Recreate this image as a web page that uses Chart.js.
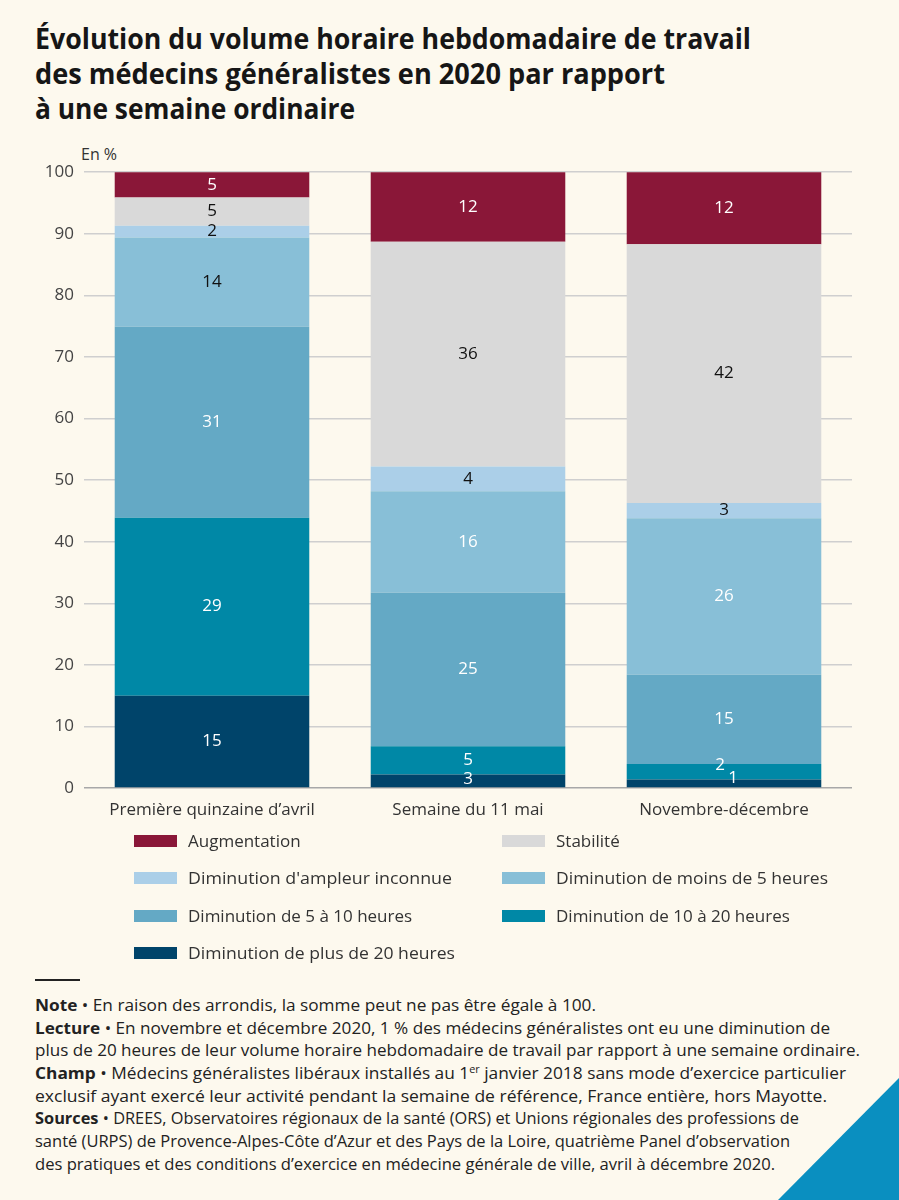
<!DOCTYPE html>
<html lang="fr">
<head>
<meta charset="utf-8">
<script src="https://cdn.jsdelivr.net/npm/chart.js@4.4.1/dist/chart.umd.min.js"></script>
<style>
  html, body { margin: 0; padding: 0; }
  body { width: 899px; height: 1200px; background: #fdf9ee; position: relative; overflow: hidden;
         font-family: "Open Sans", "Noto Sans", sans-serif; color: #333; }
  .fit { display: inline-block; white-space: nowrap; transform-origin: 0 50%; }
  #title { position: absolute; left: 35px; top: 20px; font-weight: 700; font-size: 29px; line-height: 35px; color: #161616; }
  #title div { height: 35px; }
  #unit { position: absolute; left: 81px; top: 143px; font-size: 16px; color: #333; }
  #wrap { position: absolute; left: 0; top: 152px; width: 852px; height: 678px; }
  #legend { position: absolute; left: 0; top: 822px; width: 899px; }
  .item { position: absolute; height: 38px; font-size: 17px; line-height: 38px; color: #333; }
  .item span.sw { position: absolute; top: 13px; width: 43px; height: 12px; }
  .item span.tx { position: absolute; }
  #rule { position: absolute; left: 35px; top: 979px; width: 45px; height: 2px; background: #222; }
  #notes { position: absolute; left: 35px; top: 994px; font-size: 16px; line-height: 22.7px; color: #222; }
  #notes div { height: 22.7px; }
  #notes b { font-weight: 700; }
  #corner { position: absolute; right: 0; bottom: 0; width: 0; height: 0;
            border-style: solid; border-width: 0 0 122px 121px; border-color: transparent transparent #0a8fc0 transparent; }
</style>
</head>
<body>
<div id="title">
  <div><span class="fit" data-w="716">Évolution du volume horaire hebdomadaire de travail</span></div>
  <div><span class="fit" data-w="630">des médecins généralistes en 2020 par rapport</span></div>
  <div><span class="fit" data-w="320">à une semaine ordinaire</span></div>
</div>
<div id="unit">En %</div>
<div id="wrap"><canvas id="chart"></canvas></div>
<div id="legend"></div>
<div id="rule"></div>
<div id="notes">
  <div><span class="fit" data-w="561"><b>Note</b> • En raison des arrondis, la somme peut ne pas être égale à 100.</span></div>
  <div><span class="fit" data-w="795"><b>Lecture</b> • En novembre et décembre 2020, 1 % des médecins généralistes ont eu une diminution de</span></div>
  <div><span class="fit" data-w="825">plus de 20 heures de leur volume horaire hebdomadaire de travail par rapport à une semaine ordinaire.</span></div>
  <div><span class="fit" data-w="811"><b>Champ</b> • Médecins généralistes libéraux installés au 1<sup style="font-size:10px;line-height:0">er</sup> janvier 2018 sans mode d’exercice particulier</span></div>
  <div><span class="fit" data-w="792">exclusif ayant exercé leur activité pendant la semaine de référence, France entière, hors Mayotte.</span></div>
  <div><span class="fit" data-w="764"><b>Sources</b> • DREES, Observatoires régionaux de la santé (ORS) et Unions régionales des professions de</span></div>
  <div><span class="fit" data-w="755">santé (URPS) de Provence-Alpes-Côte d’Azur et des Pays de la Loire, quatrième Panel d’observation</span></div>
  <div><span class="fit" data-w="740">des pratiques et des conditions d’exercice en médecine générale de ville, avril à décembre 2020.</span></div>
</div>
<div id="corner"></div>

<script>
// categories and tick labels
var categories = ['Première quinzaine d’avril', 'Semaine du 11 mai', 'Novembre-décembre'];
var yTicks = [0, 10, 20, 30, 40, 50, 60, 70, 80, 90, 100];

// segment heights (in %), bottom to top
var plus20 = [15.0, 2.2, 1.4];
var de10a20 = [28.9, 4.6, 2.5];
var de5a10 = [31.0, 24.9, 14.5];
var moins5 = [14.5, 16.5, 25.4];
var inconnue = [1.9, 4.0, 2.5];
var stabilite = [4.6, 36.5, 42.0];
var augmentation = [5, 12, 12];

// printed values
var plus20Labels = [15, 3, 1];
var de10a20Labels = [29, 5, 2];
var de5a10Labels = [31, 25, 15];
var moins5Labels = [14, 16, 26];
var inconnueLabels = [2, 4, 3];
var stabiliteLabels = [5, 36, 42];
var augmentationLabels = [5, 12, 12];

var W = '#ffffff', K = '#111111';

var datasets = [
  { label: 'Diminution de plus de 20 heures', data: plus20, shown: plus20Labels, backgroundColor: '#00446a', labelColor: [W, W, W], dx: [0, 0, 9], dy: [0, -2, -5] },
  { label: 'Diminution de 10 à 20 heures', data: de10a20, shown: de10a20Labels, backgroundColor: '#0088a6', labelColor: [W, W, W], dx: [0, 0, -4], dy: [0, 0, -7] },
  { label: 'Diminution de 5 à 10 heures', data: de5a10, shown: de5a10Labels, backgroundColor: '#64a9c5', labelColor: [W, W, W] },
  { label: 'Diminution de moins de 5 heures', data: moins5, shown: moins5Labels, backgroundColor: '#88bfd7', labelColor: [K, W, W] },
  { label: "Diminution d'ampleur inconnue", data: inconnue, shown: inconnueLabels, backgroundColor: '#abcfe8', labelColor: [K, K, K] },
  { label: 'Stabilité', data: stabilite, shown: stabiliteLabels, backgroundColor: '#d9d9d9', labelColor: [K, K, K] },
  { label: 'Augmentation', data: augmentation, shown: augmentationLabels, backgroundColor: '#8a1738', labelColor: [W, W, W] }
];
datasets.forEach(function(d) {
  d.borderWidth = 0;
  d.barPercentage = 0.76;
  d.categoryPercentage = 1;
  d.clip = 0;
});

// values written in the middle of each segment
var segmentLabels = {
  id: 'segmentLabels',
  afterDatasetsDraw: function(chart) {
    var ctx = chart.ctx, area = chart.chartArea;
    ctx.save();
    ctx.font = '17px "Open Sans", sans-serif';
    ctx.textAlign = 'center';
    ctx.textBaseline = 'middle';
    chart.data.datasets.forEach(function(ds, i) {
      chart.getDatasetMeta(i).data.forEach(function(bar, j) {
        var top = Math.max(bar.y, area.top);
        var y = (top + bar.base) / 2 + (ds.dy ? ds.dy[j] : 0);
        var x = bar.x + (ds.dx ? ds.dx[j] : 0);
        ctx.fillStyle = ds.labelColor[j];
        ctx.fillText(String(ds.shown[j]), x, y);
      });
    });
    ctx.restore();
  }
};

var chart = new Chart(document.getElementById('chart'), {
  type: 'bar',
  data: { labels: categories, datasets: datasets },
  options: {
    responsive: true,
    maintainAspectRatio: false,
    animation: false,
    layout: { padding: { top: 4, right: 0, bottom: 0, left: 0 } },
    plugins: { legend: { display: false }, tooltip: { enabled: false } },
    scales: {
      x: {
        stacked: true,
        grid: { display: false },
        border: { display: false },
        ticks: { color: '#333', font: { size: 17, family: '"Open Sans", sans-serif' }, padding: 4 },
        afterFit: function(s) { s.height = 42; }
      },
      y: {
        stacked: true,
        min: 0,
        max: 100,
        afterBuildTicks: function(s) { s.ticks = yTicks.map(function(v) { return { value: v }; }); },
        grid: {
          color: function(c) { return c.tick && c.tick.value === 0 ? '#a8a8a8' : '#cfcfcf'; },
          lineWidth: 1.5,
          drawTicks: false
        },
        border: { display: false },
        ticks: { color: '#444', font: { size: 17, family: '"Open Sans", sans-serif' }, padding: 10 },
        afterFit: function(s) { s.width = 84; }
      }
    }
  },
  plugins: [segmentLabels]
});

// legend, two columns, in the reading order of the reference
var legendOrder = ['Augmentation', 'Stabilité', "Diminution d'ampleur inconnue", 'Diminution de moins de 5 heures',
  'Diminution de 5 à 10 heures', 'Diminution de 10 à 20 heures', 'Diminution de plus de 20 heures'];
var legendWidths = [null, null, 264, 272, null, null, 267];
var legend = document.getElementById('legend');
legendOrder.forEach(function(name, k) {
  var ds = datasets.filter(function(d) { return d.label === name; })[0];
  var col = k % 2, row = Math.floor(k / 2);
  var item = document.createElement('div');
  item.className = 'item';
  item.style.left = (col ? 502 : 134) + 'px';
  item.style.top = (row * 37.4) + 'px';
  var sw = document.createElement('span');
  sw.className = 'sw';
  sw.style.background = ds.backgroundColor;
  var tx = document.createElement('span');
  tx.className = 'tx fit';
  tx.style.left = '54px';
  tx.textContent = ds.label;
  if (legendWidths[k]) tx.setAttribute('data-w', legendWidths[k]);
  item.appendChild(sw);
  item.appendChild(tx);
  legend.appendChild(item);
});

// squeeze text lines to the widths of the reference
document.querySelectorAll('.fit[data-w]').forEach(function(el) {
  var w = el.getBoundingClientRect().width;
  var target = parseFloat(el.getAttribute('data-w'));
  if (w > 0) el.style.transform = 'scaleX(' + (target / w) + ')';
});
</script>
</body>
</html>
